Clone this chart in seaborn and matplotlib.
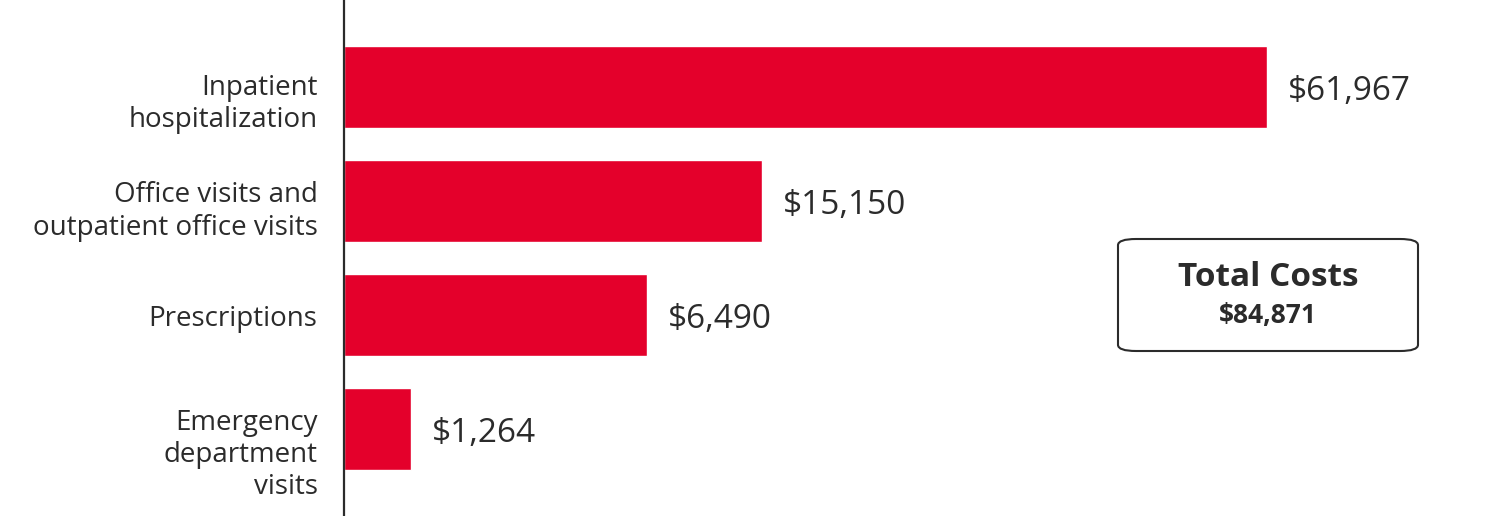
import matplotlib
matplotlib.use('Agg')
import matplotlib.pyplot as plt
from matplotlib.patches import FancyBboxPatch
from matplotlib.transforms import ScaledTranslation
import seaborn as sns
import pandas as pd

# data
categories = ['Inpatient\nhospitalization',
              'Office visits and\noutpatient office visits',
              'Prescriptions',
              'Emergency\ndepartment\nvisits']
costs = [61967, 15150, 6490, 1264]
# the artwork does not draw bars to a linear scale, so keep the drawn lengths
# (in units where the first bar = its cost)
bar_lengths = [61967, 28060, 20340, 4500]
total_label = 'Total Costs'
total_value = 84871

RED = '#E4002B'
INK = '#2b2b2b'

sns.set_theme(style='white')
plt.rcParams['font.family'] = ['Open Sans', 'DejaVu Sans']

df = pd.DataFrame({'category': categories, 'cost': costs, 'length': bar_lengths})

fig = plt.figure(figsize=(15.03, 5.16), dpi=100)
ax = fig.add_axes([344 / 1503, 0, 1 - 344 / 1503, 1])

sns.barplot(data=df, y='category', x='length', color=RED, saturation=1,
            width=0.72, orient='h', ax=ax)

ax.set_xlim(0, 77810)
ax.set_ylim(3.763, -0.763)
ax.set_xlabel('')
ax.set_ylabel('')
ax.set_xticks([])

for s in ['top', 'right', 'bottom']:
    ax.spines[s].set_visible(False)
ax.spines['left'].set_color(INK)
ax.spines['left'].set_linewidth(1.6)

ax.tick_params(axis='y', length=0, pad=19, labelsize=20, labelcolor=INK)
shifts = [-8.5, -3.5, 0, -14.5]
for lbl, dy in zip(ax.get_yticklabels(), shifts):
    lbl.set_multialignment('right')
    lbl.set_linespacing(1.2)
    lbl.set_transform(lbl.get_transform() + ScaledTranslation(0, dy / 72, fig.dpi_scale_trans))

for i, (ln, c) in enumerate(zip(bar_lengths, costs)):
    ax.annotate(f'${c:,}', xy=(ln, i), xytext=(15, -3), textcoords='offset points',
                ha='left', va='center', fontsize=24, color=INK)

box = FancyBboxPatch((1118 / 1503, 1 - 351 / 516), 300 / 1503, 112 / 516,
                     boxstyle='round,pad=0,rounding_size=0.012',
                     transform=fig.transFigure, facecolor='white',
                     edgecolor=INK, linewidth=1.5)
fig.patches.append(box)
fig.text(1268 / 1503, 1 - 277 / 516, total_label, ha='center', va='center',
         fontsize=24, fontweight='bold', color=INK)
fig.text(1268 / 1503, 1 - 315 / 516, f'${total_value:,}', ha='center', va='center',
         fontsize=19, fontweight='bold', color=INK)

fig.savefig('out.png', dpi=100, facecolor='white')
